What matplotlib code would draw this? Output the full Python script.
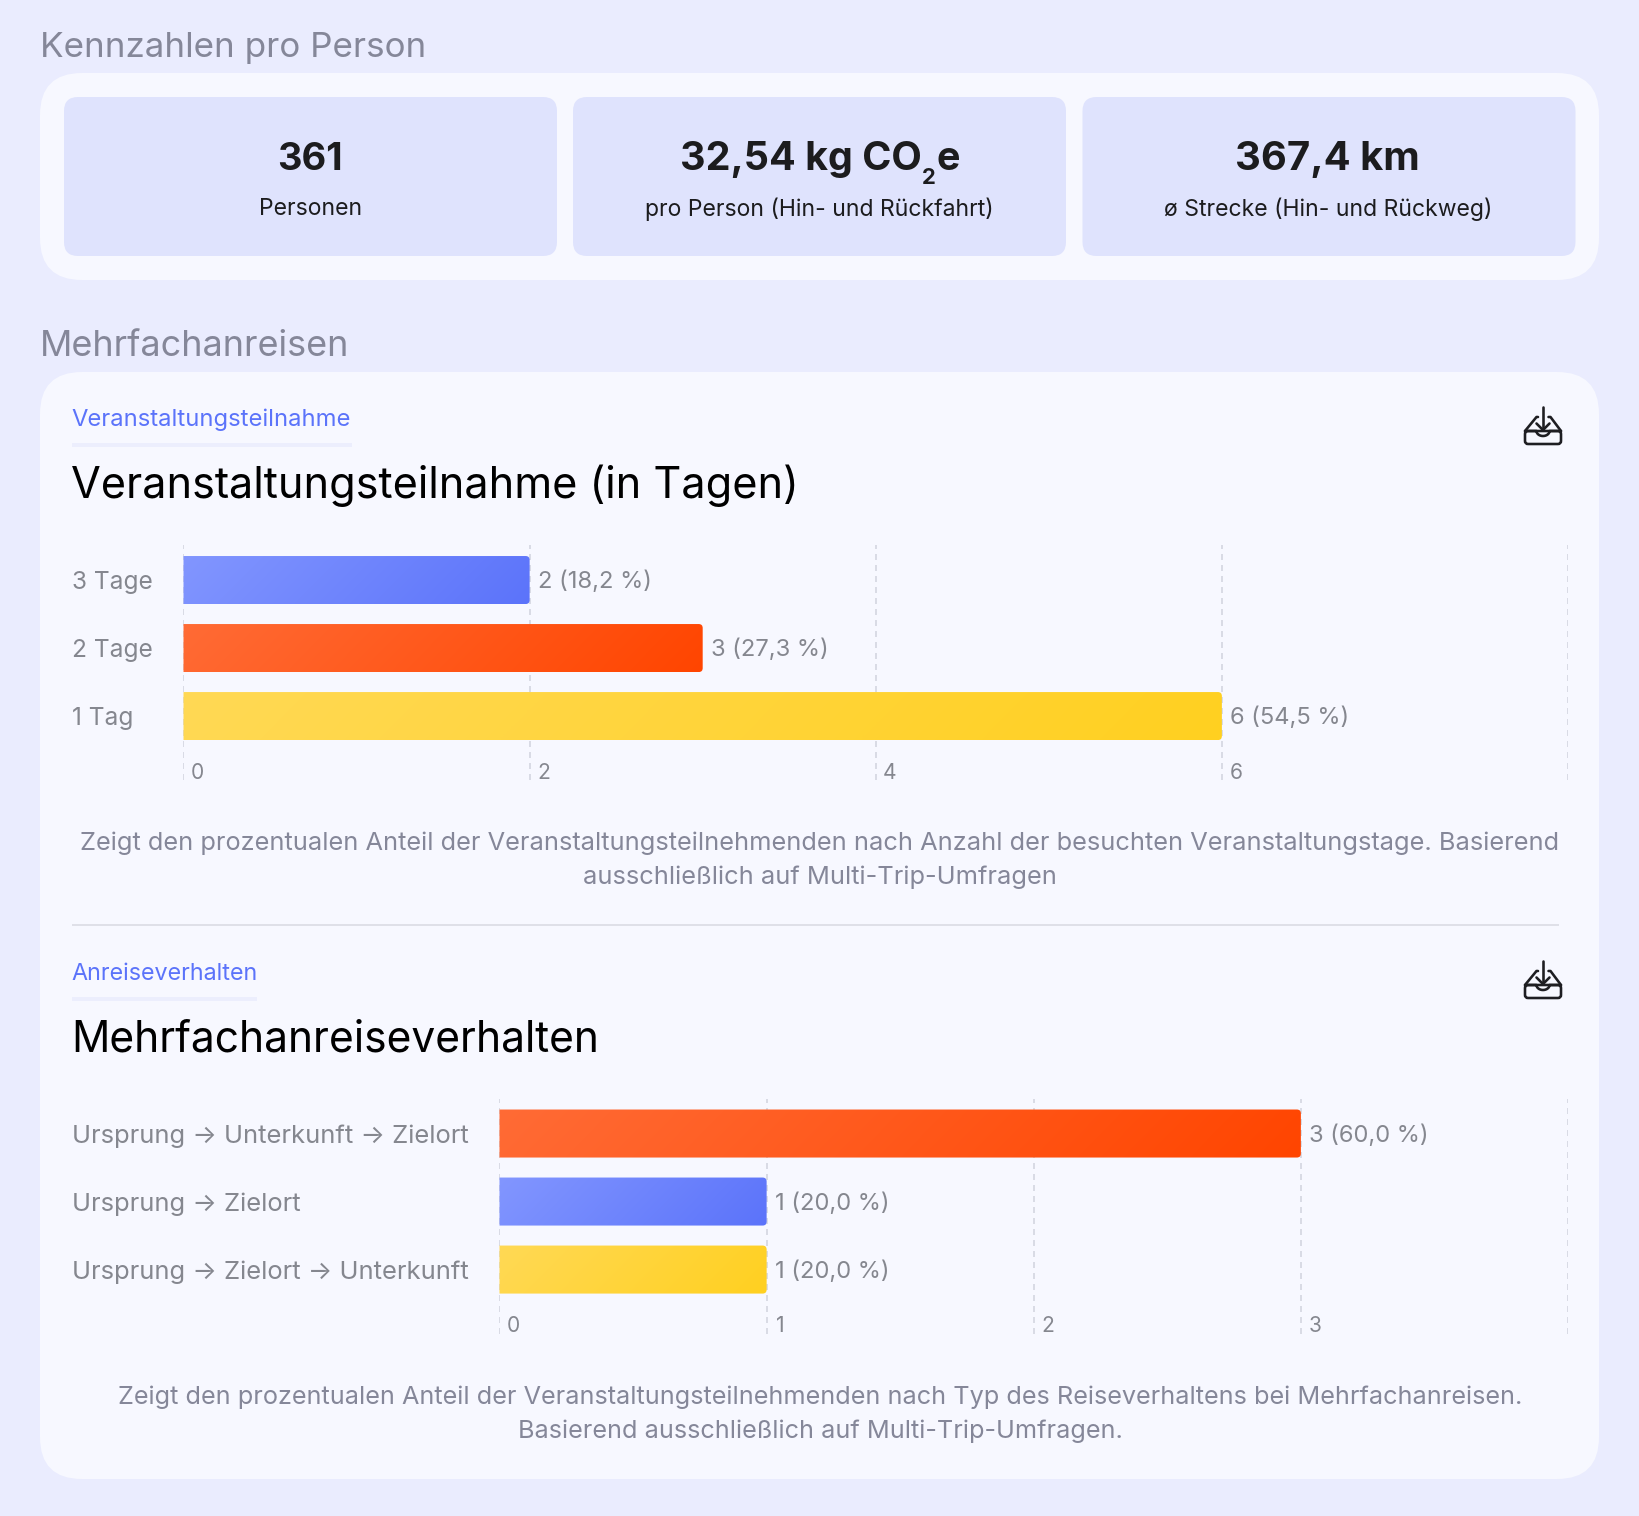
import numpy as np
import matplotlib
matplotlib.use("Agg")
import matplotlib.pyplot as plt
from matplotlib.patches import FancyBboxPatch, PathPatch, Rectangle
from matplotlib.path import Path
from matplotlib.colors import LinearSegmentedColormap
from matplotlib.transforms import ScaledTranslation

W, H = 1640, 1516
plt.rcParams['font.family'] = ['Inter', 'DejaVu Sans']

# data
kpi_values = ["361", ["32,54 kg CO", "2", "e"], "367,4 km"]
kpi_labels = ["Personen", "pro Person (Hin- und Rückfahrt)", "ø Strecke (Hin- und Rückweg)"]

days_labels = ["3 Tage", "2 Tage", "1 Tag"]
days_counts = [2, 3, 6]
days_pct = ["18,2", "27,3", "54,5"]
days_ticks = [0, 2, 4, 6, 8]

travel_labels = ["Ursprung → Unterkunft → Zielort", "Ursprung → Zielort", "Ursprung → Zielort → Unterkunft"]
travel_counts = [3, 1, 1]
travel_pct = ["60,0", "20,0", "20,0"]
travel_ticks = [0, 1, 2, 3, 4]

BLUE = ("#8296ff", "#5b73fa")
ORANGE = ("#ff6b35", "#ff4500")
YELLOW = ("#ffd955", "#ffd020")

BG = "#eaecfe"
CARD = "#f7f8ff"
TILE = "#dfe3fd"
GREY = "#85878f"
HEAD = "#858799"
GRID = "#d9dbe5"
DARK = "#1c1c1e"

fig = plt.figure(figsize=(W / 100, H / 100), dpi=100, facecolor=BG)
bg = fig.add_axes([0, 0, 1, 1], zorder=0)
bg.set_xlim(0, W)
bg.set_ylim(H, 0)
bg.axis("off")


def px(v):
    # pixels to points
    return v * 0.72


def box(x0, y0, x1, y1, r, color):
    bg.add_patch(FancyBboxPatch((x0 + r, y0 + r), x1 - x0 - 2 * r, y1 - y0 - 2 * r,
                                boxstyle=f"round,pad={r},rounding_size={r}",
                                fc=color, ec="none"))


def icon(dy):
    kw = dict(color="#1e1e22", lw=px(2.6), solid_capstyle="round", solid_joinstyle="round")
    bg.add_patch(FancyBboxPatch((1525, 431 + dy), 36, 13, boxstyle="round,pad=0,rounding_size=3",
                                fc="none", ec="#1e1e22", lw=px(2.6)))
    bg.plot([1525, 1536.5, 1538], [431 + dy, 417 + dy, 417 + dy], **kw)
    bg.plot([1561, 1550.5, 1548.5], [431 + dy, 417 + dy, 417 + dy], **kw)
    a = np.linspace(np.pi, 0, 20)
    bg.plot(np.r_[1525, 1543 + 6.5 * np.cos(a), 1561],
            np.r_[431, 431 + 5 * np.sin(a), 431] + dy, **kw)
    bg.plot([1543, 1543], [407 + dy, 430 + dy], **kw)
    bg.plot([1536.5, 1543, 1549.5], [423.5 + dy, 430 + dy, 423.5 + dy], **kw)


def gradient_bar(ax, bar, colors):
    x0, y0 = bar.get_x(), bar.get_y()
    w, h = bar.get_width(), bar.get_height()
    p = ax.transData.transform([[0, 0], [1, 1]])
    rx, ry = 4 / abs(p[1, 0] - p[0, 0]), 4 / abs(p[1, 1] - p[0, 1])
    verts = [(x0, y0), (x0 + w - rx, y0), (x0 + w, y0), (x0 + w, y0 + ry),
             (x0 + w, y0 + h - ry), (x0 + w, y0 + h), (x0 + w - rx, y0 + h),
             (x0, y0 + h), (x0, y0)]
    codes = [Path.MOVETO, Path.LINETO, Path.CURVE3, Path.CURVE3, Path.LINETO,
             Path.CURVE3, Path.CURVE3, Path.LINETO, Path.CLOSEPOLY]
    clip = PathPatch(Path(verts, codes), transform=ax.transData, fc="none", ec="none")
    ax.add_patch(clip)
    wpx, hpx = int(w * abs(p[1, 0] - p[0, 0])), 48
    xx, yy = np.meshgrid(np.arange(wpx), np.arange(hpx))
    t = (xx + yy) / (wpx + hpx)
    cmap = LinearSegmentedColormap.from_list("g", colors)
    im = ax.imshow(t, cmap=cmap, extent=(x0, x0 + w, y0 + h, y0), aspect="auto",
                   zorder=3, vmin=0, vmax=1, interpolation="bilinear")
    im.set_clip_path(clip)


def chart(left, top, labels, counts, pct, ticks, colors, label_size):
    right, bottom = 1568, top + 235
    ax = fig.add_axes([left / W, 1 - bottom / H, (right - left) / W, (bottom - top) / H], zorder=2)
    ax.patch.set_alpha(0)
    y = np.arange(len(labels))
    bars = ax.barh(y, counts, height=48 / 68, color="none", zorder=3)
    ax.set_xlim(ticks[0], ticks[-1])
    ax.set_ylim(2.94, -0.515)
    for s in ax.spines.values():
        s.set_visible(False)
    ax.set_yticks(y, labels, fontsize=px(label_size), color=GREY, ha="left")
    ax.tick_params(axis="y", length=0, pad=px(left - 72))
    ax.set_xticks(ticks, [str(t) for t in ticks[:-1]] + [""], fontsize=px(21), color=GREY)
    ax.tick_params(axis="x", length=0, pad=-px(17))
    shift = ScaledTranslation(14 / 100, 0, fig.dpi_scale_trans)
    for lab in ax.get_xticklabels():
        lab.set_transform(lab.get_transform() + shift)
    ax.grid(axis="x", color=GRID, lw=px(2), ls=(0, (3, 2.5)), zorder=1)
    ax.set_axisbelow(True)
    ax.set_autoscale_on(False)
    for b, c, n, pc in zip(bars, colors, counts, pct):
        gradient_bar(ax, b, c)
        ax.annotate(f"{n} ({pc} %)", (n, b.get_y() + b.get_height() / 2),
                    xytext=(px(8.5), -px(2)), textcoords="offset points",
                    va="center", ha="left", fontsize=px(23.7), color=GREY, zorder=4)
    return ax


# cards
box(40, 73, 1599, 280, 42, CARD)
box(40, 372, 1599, 1479, 42, CARD)
for x0, x1 in [(64, 557), (573, 1066), (1082.5, 1575.5)]:
    box(x0, 97, x1, 256, 14, TILE)

bg.text(40, 48, "Kennzahlen pro Person", fontsize=px(35), color=HEAD, va="center")
bg.text(40, 347, "Mehrfachanreisen", fontsize=px(36), color=HEAD, va="center")

base = 170.5
bg.text(310, base, kpi_values[0], fontsize=px(38), fontweight="bold", color=DARK, ha="center", va="baseline")
bg.text(1327.5, base, kpi_values[2], fontsize=px(40), fontweight="bold", color=DARK, ha="center", va="baseline")

# CO2e with the low subscript, laid out piece by piece from the measured widths
renderer = fig.canvas.get_renderer()
sizes = [39.5, 22, 39.5]
offsets = [0, 13.5, 0]
pieces = [bg.text(0, base + o, s, fontsize=px(z), fontweight="bold", color=DARK, va="baseline")
          for s, z, o in zip(kpi_values[1], sizes, offsets)]
widths = [t.get_window_extent(renderer).width for t in pieces]
x = 820 - sum(widths) / 2
for t, wd in zip(pieces, widths):
    t.set_x(x)
    x += wd

for cx, lab in zip([310.5, 819, 1328.5], kpi_labels):
    bg.text(cx, 209, lab, fontsize=px(23), color=DARK, ha="center", va="center")

# chart headers
bg.text(71.5, 420, "Veranstaltungsteilnahme", fontsize=px(23.8), color="#5b73fa", va="center")
bg.add_patch(Rectangle((72, 443), 280, 4, fc="#eceefd", ec="none"))
bg.text(71.5, 486, "Veranstaltungsteilnahme (in Tagen)", fontsize=px(43.2), color="black", va="center")
icon(0)

bg.text(820, 843.5, "Zeigt den prozentualen Anteil der Veranstaltungsteilnehmenden nach Anzahl der besuchten Veranstaltungstage. Basierend",
        fontsize=px(25.4), color=HEAD, ha="center", va="center")
bg.text(820, 877.5, "ausschließlich auf Multi-Trip-Umfragen",
        fontsize=px(25.4), color=HEAD, ha="center", va="center")

bg.plot([72, 1559.5], [924.5, 924.5], color="#dfe0e8", lw=px(2), solid_capstyle="butt")

bg.text(71.5, 974, "Anreiseverhalten", fontsize=px(23.3), color="#5b73fa", va="center")
bg.add_patch(Rectangle((72, 997), 185, 4, fc="#eceefd", ec="none"))
bg.text(71.5, 1040, "Mehrfachanreiseverhalten", fontsize=px(42.5), color="black", va="center")
icon(554)

bg.text(820, 1397.5, "Zeigt den prozentualen Anteil der Veranstaltungsteilnehmenden nach Typ des Reiseverhaltens bei Mehrfachanreisen.",
        fontsize=px(25.25), color=HEAD, ha="center", va="center")
bg.text(820, 1431.5, "Basierend ausschließlich auf Multi-Trip-Umfragen.",
        fontsize=px(25.25), color=HEAD, ha="center", va="center")

chart(183.5, 545, days_labels, days_counts, days_pct, days_ticks, [BLUE, ORANGE, YELLOW], 24.5)
chart(499.5, 1098.5, travel_labels, travel_counts, travel_pct, travel_ticks, [ORANGE, BLUE, YELLOW], 25.6)

fig.savefig("out.png", dpi=100, facecolor=BG)
